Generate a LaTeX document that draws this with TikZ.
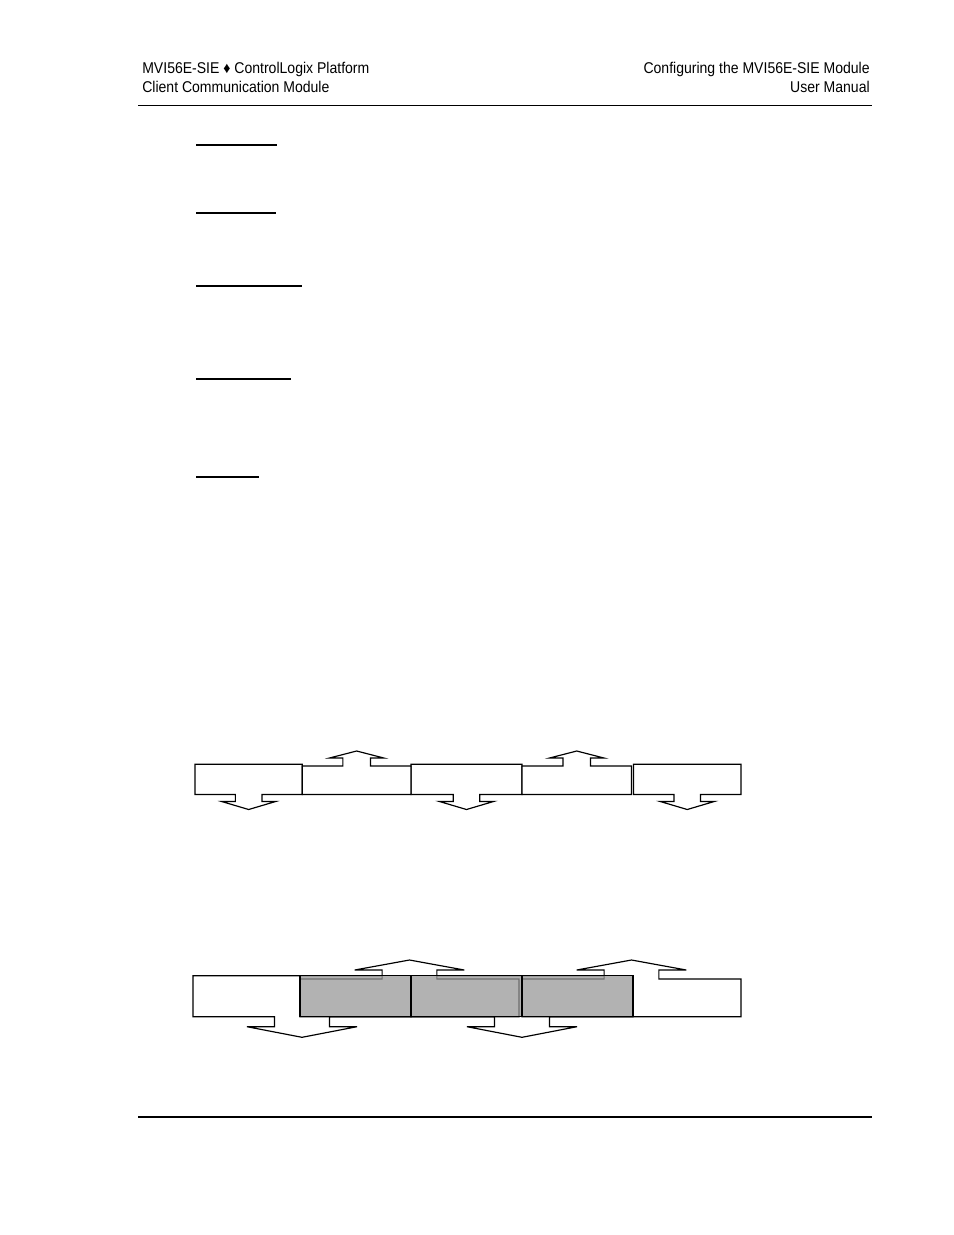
\documentclass[tikz,border=0pt]{standalone}
\usepackage{fontspec}
\newfontfamily\hdrfont[FakeStretch=0.9]{Liberation Sans}
\definecolor{BoxGrey}{RGB}{150, 150, 150}

\begin{document}
\begin{tikzpicture}[x=0.6415pt, y=-0.6415pt,
    hdr/.style={inner sep=0pt, font=\hdrfont\fontsize{10}{12}\selectfont},
    rule/.style={line width=0.7pt},
    blank/.style={line width=0.9pt},
    blockline/.style={line width=0.75pt, fill=white, line join=miter},
    greybox/.style={line width=0.75pt, fill=BoxGrey, fill opacity=0.73}]
    \useasboundingbox (0,0) rectangle (954,1235);

    % Header
    \node[hdr, anchor=base west] (hdrLeftA) at (142,73.7) {MVI56E-SIE ♦ ControlLogix Platform};
    \node[hdr, anchor=base west] (hdrLeftB) at (142,92.3) {Client Communication Module};
    \node[hdr, anchor=base east] (hdrRightA) at (870,73.7) {Configuring the MVI56E-SIE Module};
    \node[hdr, anchor=base east] (hdrRightB) at (870,92.3) {User Manual};
    \draw[rule] (138,105.5) -- (872,105.5);

    % Underlined headings (blank)
    \draw[line width=1.4pt] (196,145) -- (277,145);
    \foreach \y/\e in {213/276, 286/302, 379/291, 477/259} {
        \draw[blank] (196,\y) -- (\e,\y);
    }

    % First row: down boxes
    \foreach \l/\r in {195/302.3, 411/522, 633.5/741} {
        \draw[blockline] (\l,764.3) -- (\r,764.3) -- (\r,794.5)
            -- ({(\l+\r)/2+13.3},794.5) -- ({(\l+\r)/2+13.3},801.5) -- ({(\l+\r)/2+27},801.5)
            -- ({(\l+\r)/2},809.5)
            -- ({(\l+\r)/2-27},801.5) -- ({(\l+\r)/2-13.3},801.5) -- ({(\l+\r)/2-13.3},794.5)
            -- (\l,794.5) -- cycle;
    }
    % First row: up boxes
    \foreach \l/\r in {302.3/411, 522/631.5} {
        \draw[blockline] (\l,766) -- ({(\l+\r)/2-13.8},766) -- ({(\l+\r)/2-13.8},758) -- ({(\l+\r)/2-27.2},758)
            -- ({(\l+\r)/2},751)
            -- ({(\l+\r)/2+27.2},758) -- ({(\l+\r)/2+13.8},758) -- ({(\l+\r)/2+13.8},766)
            -- (\r,766) -- (\r,794.5) -- (\l,794.5) -- cycle;
    }

    % Second row: wide down blocks
    \foreach \l/\r in {193/411, 411/633} {
        \draw[blockline] (\l,975.7) -- (\r,975.7) -- (\r,1016.7)
            -- ({(\l+\r)/2+27.5},1016.7) -- ({(\l+\r)/2+27.5},1026.7) -- ({(\l+\r)/2+55},1026.7)
            -- ({(\l+\r)/2},1037.3)
            -- ({(\l+\r)/2-55},1026.7) -- ({(\l+\r)/2-27.5},1026.7) -- ({(\l+\r)/2-27.5},1016.7)
            -- (\l,1016.7) -- cycle;
    }
    % Second row: wide up blocks
    \foreach \l/\r in {300/519, 522/741} {
        \draw[blockline] (\l,979) -- ({(\l+\r)/2-27.4},979) -- ({(\l+\r)/2-27.4},970) -- ({(\l+\r)/2-54.8},970)
            -- ({(\l+\r)/2},960)
            -- ({(\l+\r)/2+54.8},970) -- ({(\l+\r)/2+27.4},970) -- ({(\l+\r)/2+27.4},979)
            -- (\r,979) -- (\r,1016.7) -- (\l,1016.7) -- cycle;
    }
    % Shaded overlap
    \foreach \l/\r in {300/411, 411/522, 522/633} {
        \draw[greybox] (\l,975.7) rectangle (\r,1016.7);
    }

    % Footer
    \draw[rule] (138,1117) -- (872,1117);
\end{tikzpicture}
\end{document}
